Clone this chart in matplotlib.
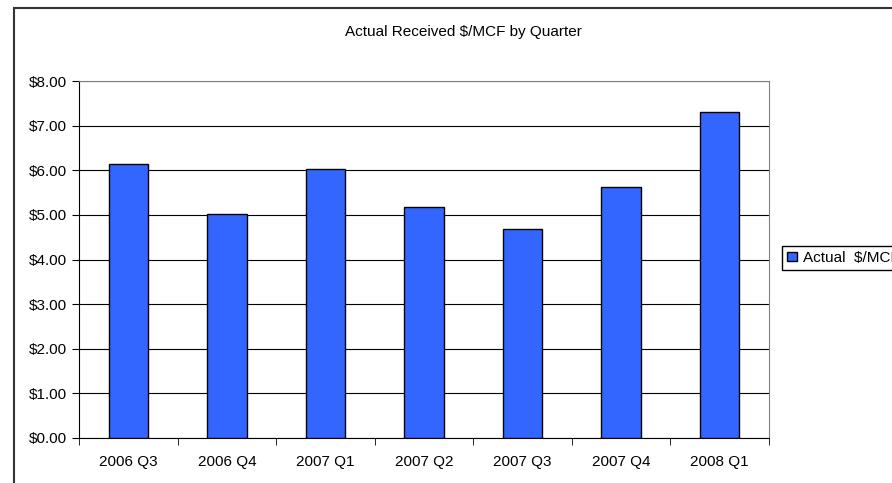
import numpy as np
import matplotlib.pyplot as plt
from matplotlib.patches import Rectangle

# Dados
quarters = ['2006 Q3', '2006 Q4', '2007 Q1', '2007 Q2', '2007 Q3', '2007 Q4', '2008 Q1']
price = [6.14, 5.03, 6.03, 5.17, 4.68, 5.63, 7.31]
yticks = [0, 1, 2, 3, 4, 5, 6, 7, 8]

plt.rcParams['font.family'] = 'Liberation Sans'
plt.rcParams['font.size'] = 11

fig = plt.figure(figsize=(8.92, 4.83), dpi=100)
fig.patch.set_facecolor('white')

# moldura externa do grafico (cortada na direita e embaixo)
fig.patches.append(Rectangle((14 / 892, -0.1), 1.2, (483 - 8) / 483 + 0.1,
                             transform=fig.transFigure, fill=False,
                             edgecolor='#333333', linewidth=1.5))

ax = fig.add_axes([79 / 892, 45 / 483, 690 / 892, 357 / 483])
x = np.arange(len(quarters))
ax.bar(x, price, width=0.4, color='#3366FF', edgecolor='black', linewidth=1,
       label='Actual  $/MCF', zorder=3)

ax.set_xlim(-0.5, len(quarters) - 0.5)
ax.set_ylim(0, 8)
ax.set_yticks(yticks)
ax.set_yticklabels(['$%.2f' % v for v in yticks])
ax.yaxis.grid(True, color='black', linewidth=0.8, zorder=0)

ax.set_xticks(x)
ax.set_xticklabels(quarters)
ax.set_xticks(np.arange(len(quarters) + 1) - 0.5, minor=True)
ax.tick_params(axis='x', which='major', length=0, pad=12)
ax.tick_params(axis='x', which='minor', length=5, direction='out', color='black')
ax.tick_params(axis='y', length=5, direction='out', color='black', pad=4)

for s in ['top', 'right']:
    ax.spines[s].set_color('#808080')
for s in ['left', 'bottom']:
    ax.spines[s].set_color('black')

fig.text(463 / 892, (483 - 32) / 483, 'Actual Received $/MCF by Quarter',
         ha='center', va='center', fontsize=11)

leg = fig.legend(loc='center left', bbox_to_anchor=(782 / 892, (483 - 258) / 483),
                 fancybox=False, edgecolor='black', framealpha=1,
                 handlelength=0.6, handleheight=0.6, handletextpad=0.4,
                 borderpad=0.35, borderaxespad=0, fontsize=11)
leg.get_frame().set_linewidth(1)

plt.savefig('out.png', dpi=100)
plt.close()
